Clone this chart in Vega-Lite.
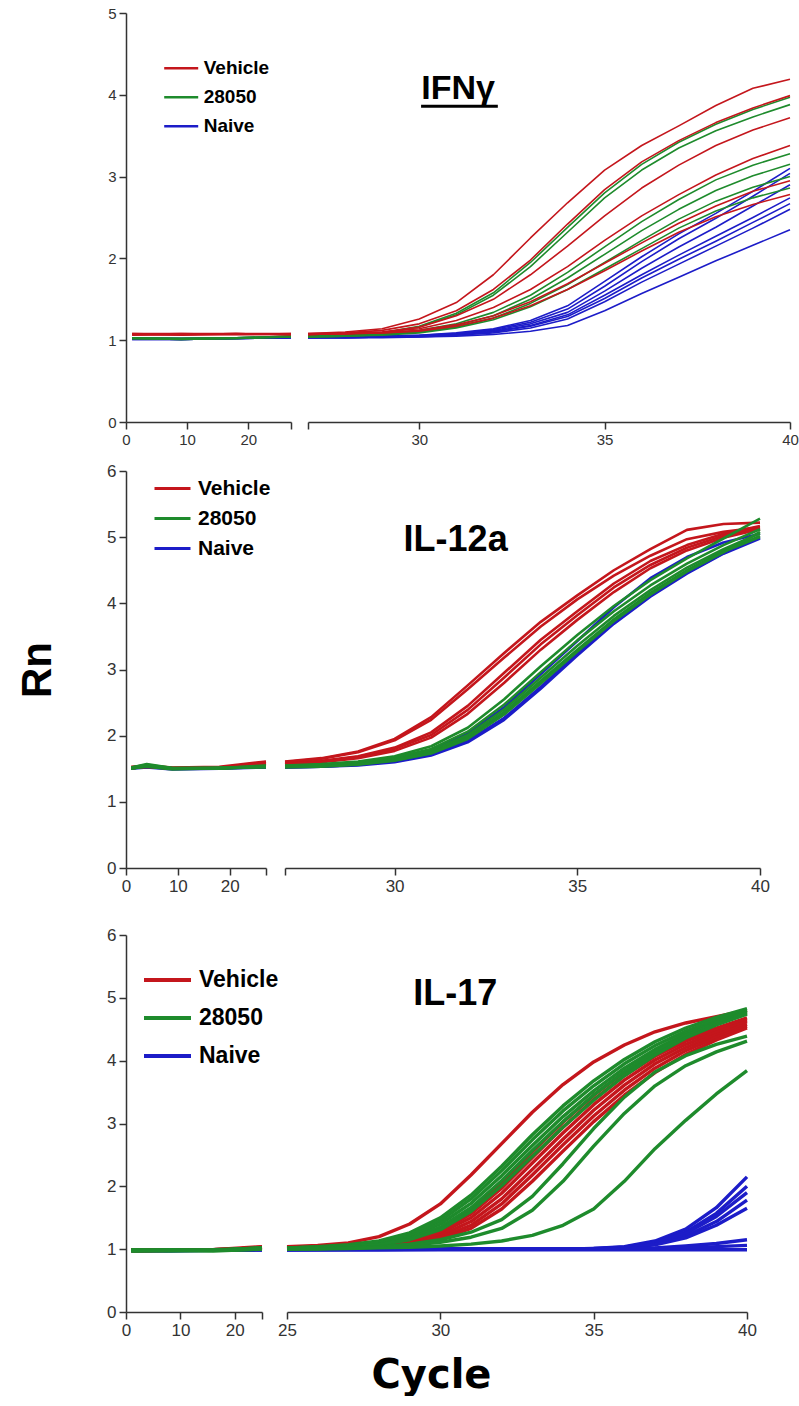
{
"$schema":"https://vega.github.io/schema/vega-lite/v6.json",
"autosize":{"type":"pad"},
"padding":{"left":16,"top":6,"right":0,"bottom":0},
"config":{"view":{"stroke":null},"axis":{"domainColor":"#333","domainWidth":1.5,"tickColor":"#333","tickWidth":1.5,"tickSize":7,"labelFont":"Liberation Sans","labelColor":"#333","labelPadding":3,"labelFlush":false,"labelOverlap":false,"grid":false},"line":{"strokeJoin":"round"}},
"datasets":{
"ifn":[
{"g":"Naive","s":1,"c":1,"v":1.03},{"g":"Naive","s":1,"c":9,"v":1.02},{"g":"Naive","s":1,"c":18,"v":1.03},{"g":"Naive","s":1,"c":27,"v":1.04},{"g":"Naive","s":1,"c":28,"v":1.04},{"g":"Naive","s":1,"c":29,"v":1.05},{"g":"Naive","s":1,"c":30,"v":1.06},{"g":"Naive","s":1,"c":31,"v":1.09},{"g":"Naive","s":1,"c":32,"v":1.14},{"g":"Naive","s":1,"c":33,"v":1.24},{"g":"Naive","s":1,"c":34,"v":1.42},{"g":"Naive","s":1,"c":35,"v":1.72},{"g":"Naive","s":1,"c":36,"v":2.02},{"g":"Naive","s":1,"c":37,"v":2.30},{"g":"Naive","s":1,"c":38,"v":2.55},{"g":"Naive","s":1,"c":39,"v":2.82},{"g":"Naive","s":1,"c":40,"v":3.10},
{"g":"Naive","s":2,"c":1,"v":1.02},{"g":"Naive","s":2,"c":9,"v":1.02},{"g":"Naive","s":2,"c":18,"v":1.03},{"g":"Naive","s":2,"c":27,"v":1.04},{"g":"Naive","s":2,"c":28,"v":1.04},{"g":"Naive","s":2,"c":29,"v":1.05},{"g":"Naive","s":2,"c":30,"v":1.06},{"g":"Naive","s":2,"c":31,"v":1.08},{"g":"Naive","s":2,"c":32,"v":1.13},{"g":"Naive","s":2,"c":33,"v":1.22},{"g":"Naive","s":2,"c":34,"v":1.38},{"g":"Naive","s":2,"c":35,"v":1.66},{"g":"Naive","s":2,"c":36,"v":1.96},{"g":"Naive","s":2,"c":37,"v":2.24},{"g":"Naive","s":2,"c":38,"v":2.49},{"g":"Naive","s":2,"c":39,"v":2.76},{"g":"Naive","s":2,"c":40,"v":3.04},
{"g":"Naive","s":3,"c":1,"v":1.02},{"g":"Naive","s":3,"c":9,"v":1.01},{"g":"Naive","s":3,"c":18,"v":1.02},{"g":"Naive","s":3,"c":27,"v":1.03},{"g":"Naive","s":3,"c":28,"v":1.04},{"g":"Naive","s":3,"c":29,"v":1.04},{"g":"Naive","s":3,"c":30,"v":1.05},{"g":"Naive","s":3,"c":31,"v":1.08},{"g":"Naive","s":3,"c":32,"v":1.12},{"g":"Naive","s":3,"c":33,"v":1.20},{"g":"Naive","s":3,"c":34,"v":1.34},{"g":"Naive","s":3,"c":35,"v":1.60},{"g":"Naive","s":3,"c":36,"v":1.88},{"g":"Naive","s":3,"c":37,"v":2.14},{"g":"Naive","s":3,"c":38,"v":2.38},{"g":"Naive","s":3,"c":39,"v":2.64},{"g":"Naive","s":3,"c":40,"v":2.90},
{"g":"Naive","s":4,"c":1,"v":1.02},{"g":"Naive","s":4,"c":9,"v":1.02},{"g":"Naive","s":4,"c":18,"v":1.02},{"g":"Naive","s":4,"c":27,"v":1.03},{"g":"Naive","s":4,"c":28,"v":1.03},{"g":"Naive","s":4,"c":29,"v":1.04},{"g":"Naive","s":4,"c":30,"v":1.05},{"g":"Naive","s":4,"c":31,"v":1.07},{"g":"Naive","s":4,"c":32,"v":1.11},{"g":"Naive","s":4,"c":33,"v":1.18},{"g":"Naive","s":4,"c":34,"v":1.31},{"g":"Naive","s":4,"c":35,"v":1.55},{"g":"Naive","s":4,"c":36,"v":1.80},{"g":"Naive","s":4,"c":37,"v":2.04},{"g":"Naive","s":4,"c":38,"v":2.27},{"g":"Naive","s":4,"c":39,"v":2.50},{"g":"Naive","s":4,"c":40,"v":2.74},
{"g":"Naive","s":5,"c":1,"v":1.01},{"g":"Naive","s":5,"c":9,"v":1.01},{"g":"Naive","s":5,"c":18,"v":1.02},{"g":"Naive","s":5,"c":27,"v":1.03},{"g":"Naive","s":5,"c":28,"v":1.03},{"g":"Naive","s":5,"c":29,"v":1.04},{"g":"Naive","s":5,"c":30,"v":1.05},{"g":"Naive","s":5,"c":31,"v":1.07},{"g":"Naive","s":5,"c":32,"v":1.10},{"g":"Naive","s":5,"c":33,"v":1.17},{"g":"Naive","s":5,"c":34,"v":1.29},{"g":"Naive","s":5,"c":35,"v":1.51},{"g":"Naive","s":5,"c":36,"v":1.76},{"g":"Naive","s":5,"c":37,"v":1.99},{"g":"Naive","s":5,"c":38,"v":2.21},{"g":"Naive","s":5,"c":39,"v":2.44},{"g":"Naive","s":5,"c":40,"v":2.67},
{"g":"Naive","s":6,"c":1,"v":1.02},{"g":"Naive","s":6,"c":9,"v":1.01},{"g":"Naive","s":6,"c":18,"v":1.02},{"g":"Naive","s":6,"c":27,"v":1.03},{"g":"Naive","s":6,"c":28,"v":1.03},{"g":"Naive","s":6,"c":29,"v":1.04},{"g":"Naive","s":6,"c":30,"v":1.04},{"g":"Naive","s":6,"c":31,"v":1.06},{"g":"Naive","s":6,"c":32,"v":1.09},{"g":"Naive","s":6,"c":33,"v":1.15},{"g":"Naive","s":6,"c":34,"v":1.26},{"g":"Naive","s":6,"c":35,"v":1.47},{"g":"Naive","s":6,"c":36,"v":1.71},{"g":"Naive","s":6,"c":37,"v":1.93},{"g":"Naive","s":6,"c":38,"v":2.15},{"g":"Naive","s":6,"c":39,"v":2.37},{"g":"Naive","s":6,"c":40,"v":2.60},
{"g":"Naive","s":7,"c":1,"v":1.01},{"g":"Naive","s":7,"c":9,"v":1.01},{"g":"Naive","s":7,"c":18,"v":1.02},{"g":"Naive","s":7,"c":27,"v":1.03},{"g":"Naive","s":7,"c":28,"v":1.03},{"g":"Naive","s":7,"c":29,"v":1.03},{"g":"Naive","s":7,"c":30,"v":1.04},{"g":"Naive","s":7,"c":31,"v":1.05},{"g":"Naive","s":7,"c":32,"v":1.07},{"g":"Naive","s":7,"c":33,"v":1.11},{"g":"Naive","s":7,"c":34,"v":1.18},{"g":"Naive","s":7,"c":35,"v":1.36},{"g":"Naive","s":7,"c":36,"v":1.57},{"g":"Naive","s":7,"c":37,"v":1.77},{"g":"Naive","s":7,"c":38,"v":1.97},{"g":"Naive","s":7,"c":39,"v":2.16},{"g":"Naive","s":7,"c":40,"v":2.35},
{"g":"28050","s":11,"c":1,"v":1.03},{"g":"28050","s":11,"c":9,"v":1.02},{"g":"28050","s":11,"c":18,"v":1.03},{"g":"28050","s":11,"c":27,"v":1.05},{"g":"28050","s":11,"c":28,"v":1.06},{"g":"28050","s":11,"c":29,"v":1.09},{"g":"28050","s":11,"c":30,"v":1.17},{"g":"28050","s":11,"c":31,"v":1.33},{"g":"28050","s":11,"c":32,"v":1.58},{"g":"28050","s":11,"c":33,"v":1.95},{"g":"28050","s":11,"c":34,"v":2.38},{"g":"28050","s":11,"c":35,"v":2.80},{"g":"28050","s":11,"c":36,"v":3.15},{"g":"28050","s":11,"c":37,"v":3.42},{"g":"28050","s":11,"c":38,"v":3.64},{"g":"28050","s":11,"c":39,"v":3.82},{"g":"28050","s":11,"c":40,"v":3.97},
{"g":"28050","s":12,"c":1,"v":1.02},{"g":"28050","s":12,"c":9,"v":1.02},{"g":"28050","s":12,"c":18,"v":1.02},{"g":"28050","s":12,"c":27,"v":1.05},{"g":"28050","s":12,"c":28,"v":1.06},{"g":"28050","s":12,"c":29,"v":1.09},{"g":"28050","s":12,"c":30,"v":1.16},{"g":"28050","s":12,"c":31,"v":1.31},{"g":"28050","s":12,"c":32,"v":1.55},{"g":"28050","s":12,"c":33,"v":1.90},{"g":"28050","s":12,"c":34,"v":2.32},{"g":"28050","s":12,"c":35,"v":2.74},{"g":"28050","s":12,"c":36,"v":3.08},{"g":"28050","s":12,"c":37,"v":3.35},{"g":"28050","s":12,"c":38,"v":3.56},{"g":"28050","s":12,"c":39,"v":3.73},{"g":"28050","s":12,"c":40,"v":3.88},
{"g":"28050","s":13,"c":1,"v":1.03},{"g":"28050","s":13,"c":9,"v":1.02},{"g":"28050","s":13,"c":18,"v":1.03},{"g":"28050","s":13,"c":27,"v":1.05},{"g":"28050","s":13,"c":28,"v":1.06},{"g":"28050","s":13,"c":29,"v":1.08},{"g":"28050","s":13,"c":30,"v":1.12},{"g":"28050","s":13,"c":31,"v":1.20},{"g":"28050","s":13,"c":32,"v":1.34},{"g":"28050","s":13,"c":33,"v":1.55},{"g":"28050","s":13,"c":34,"v":1.83},{"g":"28050","s":13,"c":35,"v":2.14},{"g":"28050","s":13,"c":36,"v":2.45},{"g":"28050","s":13,"c":37,"v":2.72},{"g":"28050","s":13,"c":38,"v":2.96},{"g":"28050","s":13,"c":39,"v":3.14},{"g":"28050","s":13,"c":40,"v":3.28},
{"g":"28050","s":14,"c":1,"v":1.02},{"g":"28050","s":14,"c":9,"v":1.01},{"g":"28050","s":14,"c":18,"v":1.02},{"g":"28050","s":14,"c":27,"v":1.04},{"g":"28050","s":14,"c":28,"v":1.05},{"g":"28050","s":14,"c":29,"v":1.07},{"g":"28050","s":14,"c":30,"v":1.10},{"g":"28050","s":14,"c":31,"v":1.18},{"g":"28050","s":14,"c":32,"v":1.30},{"g":"28050","s":14,"c":33,"v":1.50},{"g":"28050","s":14,"c":34,"v":1.76},{"g":"28050","s":14,"c":35,"v":2.05},{"g":"28050","s":14,"c":36,"v":2.34},{"g":"28050","s":14,"c":37,"v":2.60},{"g":"28050","s":14,"c":38,"v":2.83},{"g":"28050","s":14,"c":39,"v":3.01},{"g":"28050","s":14,"c":40,"v":3.15},
{"g":"28050","s":15,"c":1,"v":1.02},{"g":"28050","s":15,"c":9,"v":1.02},{"g":"28050","s":15,"c":18,"v":1.03},{"g":"28050","s":15,"c":27,"v":1.04},{"g":"28050","s":15,"c":28,"v":1.05},{"g":"28050","s":15,"c":29,"v":1.07},{"g":"28050","s":15,"c":30,"v":1.10},{"g":"28050","s":15,"c":31,"v":1.16},{"g":"28050","s":15,"c":32,"v":1.27},{"g":"28050","s":15,"c":33,"v":1.45},{"g":"28050","s":15,"c":34,"v":1.68},{"g":"28050","s":15,"c":35,"v":1.95},{"g":"28050","s":15,"c":36,"v":2.22},{"g":"28050","s":15,"c":37,"v":2.48},{"g":"28050","s":15,"c":38,"v":2.70},{"g":"28050","s":15,"c":39,"v":2.87},{"g":"28050","s":15,"c":40,"v":3.00},
{"g":"28050","s":16,"c":1,"v":1.02},{"g":"28050","s":16,"c":9,"v":1.01},{"g":"28050","s":16,"c":18,"v":1.02},{"g":"28050","s":16,"c":27,"v":1.04},{"g":"28050","s":16,"c":28,"v":1.05},{"g":"28050","s":16,"c":29,"v":1.06},{"g":"28050","s":16,"c":30,"v":1.09},{"g":"28050","s":16,"c":31,"v":1.15},{"g":"28050","s":16,"c":32,"v":1.25},{"g":"28050","s":16,"c":33,"v":1.41},{"g":"28050","s":16,"c":34,"v":1.62},{"g":"28050","s":16,"c":35,"v":1.87},{"g":"28050","s":16,"c":36,"v":2.12},{"g":"28050","s":16,"c":37,"v":2.37},{"g":"28050","s":16,"c":38,"v":2.58},{"g":"28050","s":16,"c":39,"v":2.74},{"g":"28050","s":16,"c":40,"v":2.86},
{"g":"Vehicle","s":21,"c":1,"v":1.08},{"g":"Vehicle","s":21,"c":9,"v":1.07},{"g":"Vehicle","s":21,"c":18,"v":1.08},{"g":"Vehicle","s":21,"c":27,"v":1.08},{"g":"Vehicle","s":21,"c":28,"v":1.10},{"g":"Vehicle","s":21,"c":29,"v":1.14},{"g":"Vehicle","s":21,"c":30,"v":1.26},{"g":"Vehicle","s":21,"c":31,"v":1.46},{"g":"Vehicle","s":21,"c":32,"v":1.80},{"g":"Vehicle","s":21,"c":33,"v":2.25},{"g":"Vehicle","s":21,"c":34,"v":2.68},{"g":"Vehicle","s":21,"c":35,"v":3.08},{"g":"Vehicle","s":21,"c":36,"v":3.38},{"g":"Vehicle","s":21,"c":37,"v":3.62},{"g":"Vehicle","s":21,"c":38,"v":3.87},{"g":"Vehicle","s":21,"c":39,"v":4.08},{"g":"Vehicle","s":21,"c":40,"v":4.19},
{"g":"Vehicle","s":22,"c":1,"v":1.08},{"g":"Vehicle","s":22,"c":9,"v":1.08},{"g":"Vehicle","s":22,"c":18,"v":1.07},{"g":"Vehicle","s":22,"c":27,"v":1.08},{"g":"Vehicle","s":22,"c":28,"v":1.09},{"g":"Vehicle","s":22,"c":29,"v":1.12},{"g":"Vehicle","s":22,"c":30,"v":1.20},{"g":"Vehicle","s":22,"c":31,"v":1.36},{"g":"Vehicle","s":22,"c":32,"v":1.62},{"g":"Vehicle","s":22,"c":33,"v":1.98},{"g":"Vehicle","s":22,"c":34,"v":2.42},{"g":"Vehicle","s":22,"c":35,"v":2.84},{"g":"Vehicle","s":22,"c":36,"v":3.18},{"g":"Vehicle","s":22,"c":37,"v":3.44},{"g":"Vehicle","s":22,"c":38,"v":3.66},{"g":"Vehicle","s":22,"c":39,"v":3.84},{"g":"Vehicle","s":22,"c":40,"v":3.99},
{"g":"Vehicle","s":23,"c":1,"v":1.07},{"g":"Vehicle","s":23,"c":9,"v":1.08},{"g":"Vehicle","s":23,"c":18,"v":1.08},{"g":"Vehicle","s":23,"c":27,"v":1.07},{"g":"Vehicle","s":23,"c":28,"v":1.08},{"g":"Vehicle","s":23,"c":29,"v":1.10},{"g":"Vehicle","s":23,"c":30,"v":1.16},{"g":"Vehicle","s":23,"c":31,"v":1.30},{"g":"Vehicle","s":23,"c":32,"v":1.50},{"g":"Vehicle","s":23,"c":33,"v":1.80},{"g":"Vehicle","s":23,"c":34,"v":2.15},{"g":"Vehicle","s":23,"c":35,"v":2.52},{"g":"Vehicle","s":23,"c":36,"v":2.86},{"g":"Vehicle","s":23,"c":37,"v":3.14},{"g":"Vehicle","s":23,"c":38,"v":3.38},{"g":"Vehicle","s":23,"c":39,"v":3.57},{"g":"Vehicle","s":23,"c":40,"v":3.72},
{"g":"Vehicle","s":24,"c":1,"v":1.07},{"g":"Vehicle","s":24,"c":9,"v":1.07},{"g":"Vehicle","s":24,"c":18,"v":1.08},{"g":"Vehicle","s":24,"c":27,"v":1.07},{"g":"Vehicle","s":24,"c":28,"v":1.08},{"g":"Vehicle","s":24,"c":29,"v":1.10},{"g":"Vehicle","s":24,"c":30,"v":1.14},{"g":"Vehicle","s":24,"c":31,"v":1.24},{"g":"Vehicle","s":24,"c":32,"v":1.40},{"g":"Vehicle","s":24,"c":33,"v":1.62},{"g":"Vehicle","s":24,"c":34,"v":1.90},{"g":"Vehicle","s":24,"c":35,"v":2.22},{"g":"Vehicle","s":24,"c":36,"v":2.52},{"g":"Vehicle","s":24,"c":37,"v":2.78},{"g":"Vehicle","s":24,"c":38,"v":3.02},{"g":"Vehicle","s":24,"c":39,"v":3.22},{"g":"Vehicle","s":24,"c":40,"v":3.38},
{"g":"Vehicle","s":25,"c":1,"v":1.07},{"g":"Vehicle","s":25,"c":9,"v":1.06},{"g":"Vehicle","s":25,"c":18,"v":1.07},{"g":"Vehicle","s":25,"c":27,"v":1.07},{"g":"Vehicle","s":25,"c":28,"v":1.08},{"g":"Vehicle","s":25,"c":29,"v":1.09},{"g":"Vehicle","s":25,"c":30,"v":1.12},{"g":"Vehicle","s":25,"c":31,"v":1.19},{"g":"Vehicle","s":25,"c":32,"v":1.30},{"g":"Vehicle","s":25,"c":33,"v":1.47},{"g":"Vehicle","s":25,"c":34,"v":1.69},{"g":"Vehicle","s":25,"c":35,"v":1.94},{"g":"Vehicle","s":25,"c":36,"v":2.19},{"g":"Vehicle","s":25,"c":37,"v":2.43},{"g":"Vehicle","s":25,"c":38,"v":2.64},{"g":"Vehicle","s":25,"c":39,"v":2.82},{"g":"Vehicle","s":25,"c":40,"v":2.95},
{"g":"Vehicle","s":26,"c":1,"v":1.06},{"g":"Vehicle","s":26,"c":9,"v":1.07},{"g":"Vehicle","s":26,"c":18,"v":1.07},{"g":"Vehicle","s":26,"c":27,"v":1.07},{"g":"Vehicle","s":26,"c":28,"v":1.08},{"g":"Vehicle","s":26,"c":29,"v":1.09},{"g":"Vehicle","s":26,"c":30,"v":1.11},{"g":"Vehicle","s":26,"c":31,"v":1.17},{"g":"Vehicle","s":26,"c":32,"v":1.27},{"g":"Vehicle","s":26,"c":33,"v":1.42},{"g":"Vehicle","s":26,"c":34,"v":1.62},{"g":"Vehicle","s":26,"c":35,"v":1.85},{"g":"Vehicle","s":26,"c":36,"v":2.09},{"g":"Vehicle","s":26,"c":37,"v":2.32},{"g":"Vehicle","s":26,"c":38,"v":2.51},{"g":"Vehicle","s":26,"c":39,"v":2.66},{"g":"Vehicle","s":26,"c":40,"v":2.78}
],
"il12":[
{"g":"Naive","s":1,"c":1,"v":1.51},{"g":"Naive","s":1,"c":4,"v":1.53},{"g":"Naive","s":1,"c":9,"v":1.50},{"g":"Naive","s":1,"c":18,"v":1.51},{"g":"Naive","s":1,"c":27,"v":1.52},{"g":"Naive","s":1,"c":28,"v":1.53},{"g":"Naive","s":1,"c":29,"v":1.56},{"g":"Naive","s":1,"c":30,"v":1.62},{"g":"Naive","s":1,"c":31,"v":1.72},{"g":"Naive","s":1,"c":32,"v":1.92},{"g":"Naive","s":1,"c":33,"v":2.27},{"g":"Naive","s":1,"c":34,"v":2.74},{"g":"Naive","s":1,"c":35,"v":3.24},{"g":"Naive","s":1,"c":36,"v":3.72},{"g":"Naive","s":1,"c":37,"v":4.12},{"g":"Naive","s":1,"c":38,"v":4.46},{"g":"Naive","s":1,"c":39,"v":4.76},{"g":"Naive","s":1,"c":40,"v":5.00},
{"g":"Naive","s":2,"c":1,"v":1.52},{"g":"Naive","s":2,"c":4,"v":1.54},{"g":"Naive","s":2,"c":9,"v":1.50},{"g":"Naive","s":2,"c":18,"v":1.51},{"g":"Naive","s":2,"c":27,"v":1.53},{"g":"Naive","s":2,"c":28,"v":1.55},{"g":"Naive","s":2,"c":29,"v":1.58},{"g":"Naive","s":2,"c":30,"v":1.65},{"g":"Naive","s":2,"c":31,"v":1.78},{"g":"Naive","s":2,"c":32,"v":2.03},{"g":"Naive","s":2,"c":33,"v":2.43},{"g":"Naive","s":2,"c":34,"v":2.93},{"g":"Naive","s":2,"c":35,"v":3.43},{"g":"Naive","s":2,"c":36,"v":3.94},{"g":"Naive","s":2,"c":37,"v":4.38},{"g":"Naive","s":2,"c":38,"v":4.70},{"g":"Naive","s":2,"c":39,"v":4.92},{"g":"Naive","s":2,"c":40,"v":5.05},
{"g":"Naive","s":3,"c":1,"v":1.50},{"g":"Naive","s":3,"c":4,"v":1.52},{"g":"Naive","s":3,"c":9,"v":1.49},{"g":"Naive","s":3,"c":18,"v":1.50},{"g":"Naive","s":3,"c":27,"v":1.52},{"g":"Naive","s":3,"c":28,"v":1.53},{"g":"Naive","s":3,"c":29,"v":1.55},{"g":"Naive","s":3,"c":30,"v":1.60},{"g":"Naive","s":3,"c":31,"v":1.70},{"g":"Naive","s":3,"c":32,"v":1.90},{"g":"Naive","s":3,"c":33,"v":2.24},{"g":"Naive","s":3,"c":34,"v":2.71},{"g":"Naive","s":3,"c":35,"v":3.21},{"g":"Naive","s":3,"c":36,"v":3.69},{"g":"Naive","s":3,"c":37,"v":4.10},{"g":"Naive","s":3,"c":38,"v":4.45},{"g":"Naive","s":3,"c":39,"v":4.75},{"g":"Naive","s":3,"c":40,"v":4.98},
{"g":"Vehicle","s":21,"c":1,"v":1.53},{"g":"Vehicle","s":21,"c":4,"v":1.55},{"g":"Vehicle","s":21,"c":9,"v":1.52},{"g":"Vehicle","s":21,"c":18,"v":1.53},{"g":"Vehicle","s":21,"c":27,"v":1.61},{"g":"Vehicle","s":21,"c":28,"v":1.66},{"g":"Vehicle","s":21,"c":29,"v":1.76},{"g":"Vehicle","s":21,"c":30,"v":1.95},{"g":"Vehicle","s":21,"c":31,"v":2.28},{"g":"Vehicle","s":21,"c":32,"v":2.76},{"g":"Vehicle","s":21,"c":33,"v":3.25},{"g":"Vehicle","s":21,"c":34,"v":3.72},{"g":"Vehicle","s":21,"c":35,"v":4.12},{"g":"Vehicle","s":21,"c":36,"v":4.50},{"g":"Vehicle","s":21,"c":37,"v":4.82},{"g":"Vehicle","s":21,"c":38,"v":5.11},{"g":"Vehicle","s":21,"c":39,"v":5.20},{"g":"Vehicle","s":21,"c":40,"v":5.22},
{"g":"Vehicle","s":22,"c":1,"v":1.52},{"g":"Vehicle","s":22,"c":4,"v":1.54},{"g":"Vehicle","s":22,"c":9,"v":1.51},{"g":"Vehicle","s":22,"c":18,"v":1.52},{"g":"Vehicle","s":22,"c":27,"v":1.60},{"g":"Vehicle","s":22,"c":28,"v":1.65},{"g":"Vehicle","s":22,"c":29,"v":1.75},{"g":"Vehicle","s":22,"c":30,"v":1.93},{"g":"Vehicle","s":22,"c":31,"v":2.24},{"g":"Vehicle","s":22,"c":32,"v":2.70},{"g":"Vehicle","s":22,"c":33,"v":3.18},{"g":"Vehicle","s":22,"c":34,"v":3.65},{"g":"Vehicle","s":22,"c":35,"v":4.06},{"g":"Vehicle","s":22,"c":36,"v":4.42},{"g":"Vehicle","s":22,"c":37,"v":4.72},{"g":"Vehicle","s":22,"c":38,"v":4.97},{"g":"Vehicle","s":22,"c":39,"v":5.08},{"g":"Vehicle","s":22,"c":40,"v":5.15},
{"g":"Vehicle","s":23,"c":1,"v":1.52},{"g":"Vehicle","s":23,"c":4,"v":1.54},{"g":"Vehicle","s":23,"c":9,"v":1.51},{"g":"Vehicle","s":23,"c":18,"v":1.52},{"g":"Vehicle","s":23,"c":27,"v":1.58},{"g":"Vehicle","s":23,"c":28,"v":1.62},{"g":"Vehicle","s":23,"c":29,"v":1.69},{"g":"Vehicle","s":23,"c":30,"v":1.82},{"g":"Vehicle","s":23,"c":31,"v":2.05},{"g":"Vehicle","s":23,"c":32,"v":2.45},{"g":"Vehicle","s":23,"c":33,"v":2.95},{"g":"Vehicle","s":23,"c":34,"v":3.45},{"g":"Vehicle","s":23,"c":35,"v":3.88},{"g":"Vehicle","s":23,"c":36,"v":4.30},{"g":"Vehicle","s":23,"c":37,"v":4.64},{"g":"Vehicle","s":23,"c":38,"v":4.88},{"g":"Vehicle","s":23,"c":39,"v":5.05},{"g":"Vehicle","s":23,"c":40,"v":5.17},
{"g":"Vehicle","s":24,"c":1,"v":1.51},{"g":"Vehicle","s":24,"c":4,"v":1.53},{"g":"Vehicle","s":24,"c":9,"v":1.50},{"g":"Vehicle","s":24,"c":18,"v":1.51},{"g":"Vehicle","s":24,"c":27,"v":1.57},{"g":"Vehicle","s":24,"c":28,"v":1.61},{"g":"Vehicle","s":24,"c":29,"v":1.68},{"g":"Vehicle","s":24,"c":30,"v":1.80},{"g":"Vehicle","s":24,"c":31,"v":2.01},{"g":"Vehicle","s":24,"c":32,"v":2.39},{"g":"Vehicle","s":24,"c":33,"v":2.88},{"g":"Vehicle","s":24,"c":34,"v":3.38},{"g":"Vehicle","s":24,"c":35,"v":3.82},{"g":"Vehicle","s":24,"c":36,"v":4.24},{"g":"Vehicle","s":24,"c":37,"v":4.58},{"g":"Vehicle","s":24,"c":38,"v":4.84},{"g":"Vehicle","s":24,"c":39,"v":5.02},{"g":"Vehicle","s":24,"c":40,"v":5.14},
{"g":"Vehicle","s":25,"c":1,"v":1.51},{"g":"Vehicle","s":25,"c":4,"v":1.53},{"g":"Vehicle","s":25,"c":9,"v":1.50},{"g":"Vehicle","s":25,"c":18,"v":1.52},{"g":"Vehicle","s":25,"c":27,"v":1.57},{"g":"Vehicle","s":25,"c":28,"v":1.60},{"g":"Vehicle","s":25,"c":29,"v":1.66},{"g":"Vehicle","s":25,"c":30,"v":1.77},{"g":"Vehicle","s":25,"c":31,"v":1.97},{"g":"Vehicle","s":25,"c":32,"v":2.33},{"g":"Vehicle","s":25,"c":33,"v":2.80},{"g":"Vehicle","s":25,"c":34,"v":3.30},{"g":"Vehicle","s":25,"c":35,"v":3.75},{"g":"Vehicle","s":25,"c":36,"v":4.17},{"g":"Vehicle","s":25,"c":37,"v":4.53},{"g":"Vehicle","s":25,"c":38,"v":4.80},{"g":"Vehicle","s":25,"c":39,"v":4.99},{"g":"Vehicle","s":25,"c":40,"v":5.12},
{"g":"28050","s":11,"c":1,"v":1.52},{"g":"28050","s":11,"c":4,"v":1.56},{"g":"28050","s":11,"c":9,"v":1.51},{"g":"28050","s":11,"c":18,"v":1.51},{"g":"28050","s":11,"c":27,"v":1.55},{"g":"28050","s":11,"c":28,"v":1.57},{"g":"28050","s":11,"c":29,"v":1.61},{"g":"28050","s":11,"c":30,"v":1.69},{"g":"28050","s":11,"c":31,"v":1.84},{"g":"28050","s":11,"c":32,"v":2.12},{"g":"28050","s":11,"c":33,"v":2.55},{"g":"28050","s":11,"c":34,"v":3.05},{"g":"28050","s":11,"c":35,"v":3.52},{"g":"28050","s":11,"c":36,"v":3.96},{"g":"28050","s":11,"c":37,"v":4.35},{"g":"28050","s":11,"c":38,"v":4.68},{"g":"28050","s":11,"c":39,"v":4.98},{"g":"28050","s":11,"c":40,"v":5.28},
{"g":"28050","s":12,"c":1,"v":1.51},{"g":"28050","s":12,"c":4,"v":1.55},{"g":"28050","s":12,"c":9,"v":1.50},{"g":"28050","s":12,"c":18,"v":1.51},{"g":"28050","s":12,"c":27,"v":1.54},{"g":"28050","s":12,"c":28,"v":1.56},{"g":"28050","s":12,"c":29,"v":1.60},{"g":"28050","s":12,"c":30,"v":1.67},{"g":"28050","s":12,"c":31,"v":1.80},{"g":"28050","s":12,"c":32,"v":2.06},{"g":"28050","s":12,"c":33,"v":2.47},{"g":"28050","s":12,"c":34,"v":2.96},{"g":"28050","s":12,"c":35,"v":3.44},{"g":"28050","s":12,"c":36,"v":3.88},{"g":"28050","s":12,"c":37,"v":4.27},{"g":"28050","s":12,"c":38,"v":4.60},{"g":"28050","s":12,"c":39,"v":4.88},{"g":"28050","s":12,"c":40,"v":5.12},
{"g":"28050","s":13,"c":1,"v":1.50},{"g":"28050","s":13,"c":4,"v":1.54},{"g":"28050","s":13,"c":9,"v":1.50},{"g":"28050","s":13,"c":18,"v":1.50},{"g":"28050","s":13,"c":27,"v":1.54},{"g":"28050","s":13,"c":28,"v":1.55},{"g":"28050","s":13,"c":29,"v":1.59},{"g":"28050","s":13,"c":30,"v":1.65},{"g":"28050","s":13,"c":31,"v":1.77},{"g":"28050","s":13,"c":32,"v":2.01},{"g":"28050","s":13,"c":33,"v":2.40},{"g":"28050","s":13,"c":34,"v":2.88},{"g":"28050","s":13,"c":35,"v":3.36},{"g":"28050","s":13,"c":36,"v":3.81},{"g":"28050","s":13,"c":37,"v":4.20},{"g":"28050","s":13,"c":38,"v":4.54},{"g":"28050","s":13,"c":39,"v":4.82},{"g":"28050","s":13,"c":40,"v":5.06},
{"g":"28050","s":14,"c":1,"v":1.51},{"g":"28050","s":14,"c":4,"v":1.53},{"g":"28050","s":14,"c":9,"v":1.49},{"g":"28050","s":14,"c":18,"v":1.51},{"g":"28050","s":14,"c":27,"v":1.53},{"g":"28050","s":14,"c":28,"v":1.55},{"g":"28050","s":14,"c":29,"v":1.58},{"g":"28050","s":14,"c":30,"v":1.64},{"g":"28050","s":14,"c":31,"v":1.75},{"g":"28050","s":14,"c":32,"v":1.98},{"g":"28050","s":14,"c":33,"v":2.36},{"g":"28050","s":14,"c":34,"v":2.83},{"g":"28050","s":14,"c":35,"v":3.30},{"g":"28050","s":14,"c":36,"v":3.76},{"g":"28050","s":14,"c":37,"v":4.16},{"g":"28050","s":14,"c":38,"v":4.50},{"g":"28050","s":14,"c":39,"v":4.79},{"g":"28050","s":14,"c":40,"v":5.02},
{"g":"28050","s":15,"c":1,"v":1.50},{"g":"28050","s":15,"c":4,"v":1.55},{"g":"28050","s":15,"c":9,"v":1.50},{"g":"28050","s":15,"c":18,"v":1.50},{"g":"28050","s":15,"c":27,"v":1.53},{"g":"28050","s":15,"c":28,"v":1.54},{"g":"28050","s":15,"c":29,"v":1.57},{"g":"28050","s":15,"c":30,"v":1.63},{"g":"28050","s":15,"c":31,"v":1.74},{"g":"28050","s":15,"c":32,"v":1.96},{"g":"28050","s":15,"c":33,"v":2.33},{"g":"28050","s":15,"c":34,"v":2.80},{"g":"28050","s":15,"c":35,"v":3.28},{"g":"28050","s":15,"c":36,"v":3.74},{"g":"28050","s":15,"c":37,"v":4.14},{"g":"28050","s":15,"c":38,"v":4.49},{"g":"28050","s":15,"c":39,"v":4.78},{"g":"28050","s":15,"c":40,"v":5.00},
{"g":"28050","s":16,"c":1,"v":1.52},{"g":"28050","s":16,"c":4,"v":1.57},{"g":"28050","s":16,"c":9,"v":1.51},{"g":"28050","s":16,"c":18,"v":1.52},{"g":"28050","s":16,"c":27,"v":1.52},{"g":"28050","s":16,"c":28,"v":1.53},{"g":"28050","s":16,"c":29,"v":1.56},{"g":"28050","s":16,"c":30,"v":1.62},{"g":"28050","s":16,"c":31,"v":1.73},{"g":"28050","s":16,"c":32,"v":1.95},{"g":"28050","s":16,"c":33,"v":2.32},{"g":"28050","s":16,"c":34,"v":2.79},{"g":"28050","s":16,"c":35,"v":3.27},{"g":"28050","s":16,"c":36,"v":3.73},{"g":"28050","s":16,"c":37,"v":4.13},{"g":"28050","s":16,"c":38,"v":4.48},{"g":"28050","s":16,"c":39,"v":4.77},{"g":"28050","s":16,"c":40,"v":5.08}
],
"il17":[
{"g":"Naive","s":1,"c":1,"v":0.98},{"g":"Naive","s":1,"c":8,"v":0.99},{"g":"Naive","s":1,"c":16,"v":0.98},{"g":"Naive","s":1,"c":25,"v":1.00},{"g":"Naive","s":1,"c":28,"v":1.00},{"g":"Naive","s":1,"c":31,"v":1.00},{"g":"Naive","s":1,"c":34,"v":1.00},{"g":"Naive","s":1,"c":35,"v":1.01},{"g":"Naive","s":1,"c":36,"v":1.04},{"g":"Naive","s":1,"c":37,"v":1.13},{"g":"Naive","s":1,"c":38,"v":1.32},{"g":"Naive","s":1,"c":39,"v":1.66},{"g":"Naive","s":1,"c":40,"v":2.15},
{"g":"Naive","s":2,"c":1,"v":0.98},{"g":"Naive","s":2,"c":8,"v":0.98},{"g":"Naive","s":2,"c":16,"v":0.99},{"g":"Naive","s":2,"c":25,"v":1.00},{"g":"Naive","s":2,"c":28,"v":1.00},{"g":"Naive","s":2,"c":31,"v":1.00},{"g":"Naive","s":2,"c":34,"v":1.00},{"g":"Naive","s":2,"c":35,"v":1.01},{"g":"Naive","s":2,"c":36,"v":1.03},{"g":"Naive","s":2,"c":37,"v":1.11},{"g":"Naive","s":2,"c":38,"v":1.27},{"g":"Naive","s":2,"c":39,"v":1.57},{"g":"Naive","s":2,"c":40,"v":2.00},
{"g":"Naive","s":3,"c":1,"v":0.99},{"g":"Naive","s":3,"c":8,"v":0.98},{"g":"Naive","s":3,"c":16,"v":0.98},{"g":"Naive","s":3,"c":25,"v":1.00},{"g":"Naive","s":3,"c":28,"v":1.00},{"g":"Naive","s":3,"c":31,"v":1.00},{"g":"Naive","s":3,"c":34,"v":1.00},{"g":"Naive","s":3,"c":35,"v":1.00},{"g":"Naive","s":3,"c":36,"v":1.03},{"g":"Naive","s":3,"c":37,"v":1.10},{"g":"Naive","s":3,"c":38,"v":1.25},{"g":"Naive","s":3,"c":39,"v":1.52},{"g":"Naive","s":3,"c":40,"v":1.90},
{"g":"Naive","s":4,"c":1,"v":0.98},{"g":"Naive","s":4,"c":8,"v":0.98},{"g":"Naive","s":4,"c":16,"v":0.98},{"g":"Naive","s":4,"c":25,"v":0.99},{"g":"Naive","s":4,"c":28,"v":1.00},{"g":"Naive","s":4,"c":31,"v":1.00},{"g":"Naive","s":4,"c":34,"v":1.00},{"g":"Naive","s":4,"c":35,"v":1.00},{"g":"Naive","s":4,"c":36,"v":1.02},{"g":"Naive","s":4,"c":37,"v":1.08},{"g":"Naive","s":4,"c":38,"v":1.21},{"g":"Naive","s":4,"c":39,"v":1.44},{"g":"Naive","s":4,"c":40,"v":1.78},
{"g":"Naive","s":5,"c":1,"v":0.97},{"g":"Naive","s":5,"c":8,"v":0.98},{"g":"Naive","s":5,"c":16,"v":0.98},{"g":"Naive","s":5,"c":25,"v":0.99},{"g":"Naive","s":5,"c":28,"v":0.99},{"g":"Naive","s":5,"c":31,"v":1.00},{"g":"Naive","s":5,"c":34,"v":1.00},{"g":"Naive","s":5,"c":35,"v":1.00},{"g":"Naive","s":5,"c":36,"v":1.02},{"g":"Naive","s":5,"c":37,"v":1.07},{"g":"Naive","s":5,"c":38,"v":1.18},{"g":"Naive","s":5,"c":39,"v":1.38},{"g":"Naive","s":5,"c":40,"v":1.65},
{"g":"Naive","s":6,"c":1,"v":0.98},{"g":"Naive","s":6,"c":8,"v":0.98},{"g":"Naive","s":6,"c":16,"v":0.99},{"g":"Naive","s":6,"c":25,"v":1.00},{"g":"Naive","s":6,"c":31,"v":1.00},{"g":"Naive","s":6,"c":35,"v":1.00},{"g":"Naive","s":6,"c":36,"v":1.01},{"g":"Naive","s":6,"c":37,"v":1.02},{"g":"Naive","s":6,"c":38,"v":1.05},{"g":"Naive","s":6,"c":39,"v":1.09},{"g":"Naive","s":6,"c":40,"v":1.15},
{"g":"Naive","s":7,"c":1,"v":0.98},{"g":"Naive","s":7,"c":8,"v":0.97},{"g":"Naive","s":7,"c":16,"v":0.98},{"g":"Naive","s":7,"c":25,"v":0.99},{"g":"Naive","s":7,"c":31,"v":1.00},{"g":"Naive","s":7,"c":35,"v":1.00},{"g":"Naive","s":7,"c":37,"v":1.01},{"g":"Naive","s":7,"c":38,"v":1.02},{"g":"Naive","s":7,"c":39,"v":1.04},{"g":"Naive","s":7,"c":40,"v":1.06},
{"g":"Naive","s":8,"c":1,"v":0.97},{"g":"Naive","s":8,"c":8,"v":0.98},{"g":"Naive","s":8,"c":16,"v":0.98},{"g":"Naive","s":8,"c":25,"v":0.99},{"g":"Naive","s":8,"c":31,"v":0.99},{"g":"Naive","s":8,"c":35,"v":0.99},{"g":"Naive","s":8,"c":40,"v":0.99},
{"g":"Vehicle","s":21,"c":1,"v":0.99},{"g":"Vehicle","s":21,"c":8,"v":0.98},{"g":"Vehicle","s":21,"c":16,"v":0.99},{"g":"Vehicle","s":21,"c":25,"v":1.04},{"g":"Vehicle","s":21,"c":26,"v":1.06},{"g":"Vehicle","s":21,"c":27,"v":1.10},{"g":"Vehicle","s":21,"c":28,"v":1.20},{"g":"Vehicle","s":21,"c":29,"v":1.40},{"g":"Vehicle","s":21,"c":30,"v":1.72},{"g":"Vehicle","s":21,"c":31,"v":2.18},{"g":"Vehicle","s":21,"c":32,"v":2.68},{"g":"Vehicle","s":21,"c":33,"v":3.18},{"g":"Vehicle","s":21,"c":34,"v":3.62},{"g":"Vehicle","s":21,"c":35,"v":3.98},{"g":"Vehicle","s":21,"c":36,"v":4.25},{"g":"Vehicle","s":21,"c":37,"v":4.46},{"g":"Vehicle","s":21,"c":38,"v":4.60},{"g":"Vehicle","s":21,"c":39,"v":4.70},{"g":"Vehicle","s":21,"c":40,"v":4.80},
{"g":"Vehicle","s":22,"c":1,"v":0.98},{"g":"Vehicle","s":22,"c":8,"v":0.99},{"g":"Vehicle","s":22,"c":16,"v":0.98},{"g":"Vehicle","s":22,"c":25,"v":1.03},{"g":"Vehicle","s":22,"c":26,"v":1.04},{"g":"Vehicle","s":22,"c":27,"v":1.06},{"g":"Vehicle","s":22,"c":28,"v":1.10},{"g":"Vehicle","s":22,"c":29,"v":1.18},{"g":"Vehicle","s":22,"c":30,"v":1.32},{"g":"Vehicle","s":22,"c":31,"v":1.62},{"g":"Vehicle","s":22,"c":32,"v":2.05},{"g":"Vehicle","s":22,"c":33,"v":2.55},{"g":"Vehicle","s":22,"c":34,"v":3.02},{"g":"Vehicle","s":22,"c":35,"v":3.45},{"g":"Vehicle","s":22,"c":36,"v":3.82},{"g":"Vehicle","s":22,"c":37,"v":4.12},{"g":"Vehicle","s":22,"c":38,"v":4.35},{"g":"Vehicle","s":22,"c":39,"v":4.52},{"g":"Vehicle","s":22,"c":40,"v":4.68},
{"g":"Vehicle","s":23,"c":1,"v":0.99},{"g":"Vehicle","s":23,"c":8,"v":0.98},{"g":"Vehicle","s":23,"c":16,"v":0.98},{"g":"Vehicle","s":23,"c":25,"v":1.03},{"g":"Vehicle","s":23,"c":26,"v":1.04},{"g":"Vehicle","s":23,"c":27,"v":1.05},{"g":"Vehicle","s":23,"c":28,"v":1.09},{"g":"Vehicle","s":23,"c":29,"v":1.16},{"g":"Vehicle","s":23,"c":30,"v":1.29},{"g":"Vehicle","s":23,"c":31,"v":1.56},{"g":"Vehicle","s":23,"c":32,"v":1.97},{"g":"Vehicle","s":23,"c":33,"v":2.46},{"g":"Vehicle","s":23,"c":34,"v":2.94},{"g":"Vehicle","s":23,"c":35,"v":3.38},{"g":"Vehicle","s":23,"c":36,"v":3.76},{"g":"Vehicle","s":23,"c":37,"v":4.07},{"g":"Vehicle","s":23,"c":38,"v":4.31},{"g":"Vehicle","s":23,"c":39,"v":4.49},{"g":"Vehicle","s":23,"c":40,"v":4.65},
{"g":"Vehicle","s":24,"c":1,"v":0.98},{"g":"Vehicle","s":24,"c":8,"v":0.98},{"g":"Vehicle","s":24,"c":16,"v":0.99},{"g":"Vehicle","s":24,"c":25,"v":1.02},{"g":"Vehicle","s":24,"c":26,"v":1.03},{"g":"Vehicle","s":24,"c":27,"v":1.05},{"g":"Vehicle","s":24,"c":28,"v":1.08},{"g":"Vehicle","s":24,"c":29,"v":1.14},{"g":"Vehicle","s":24,"c":30,"v":1.26},{"g":"Vehicle","s":24,"c":31,"v":1.50},{"g":"Vehicle","s":24,"c":32,"v":1.89},{"g":"Vehicle","s":24,"c":33,"v":2.37},{"g":"Vehicle","s":24,"c":34,"v":2.85},{"g":"Vehicle","s":24,"c":35,"v":3.30},{"g":"Vehicle","s":24,"c":36,"v":3.69},{"g":"Vehicle","s":24,"c":37,"v":4.01},{"g":"Vehicle","s":24,"c":38,"v":4.26},{"g":"Vehicle","s":24,"c":39,"v":4.45},{"g":"Vehicle","s":24,"c":40,"v":4.62},
{"g":"Vehicle","s":25,"c":1,"v":0.98},{"g":"Vehicle","s":25,"c":8,"v":0.99},{"g":"Vehicle","s":25,"c":16,"v":0.98},{"g":"Vehicle","s":25,"c":25,"v":1.02},{"g":"Vehicle","s":25,"c":26,"v":1.03},{"g":"Vehicle","s":25,"c":27,"v":1.04},{"g":"Vehicle","s":25,"c":28,"v":1.07},{"g":"Vehicle","s":25,"c":29,"v":1.12},{"g":"Vehicle","s":25,"c":30,"v":1.22},{"g":"Vehicle","s":25,"c":31,"v":1.44},{"g":"Vehicle","s":25,"c":32,"v":1.80},{"g":"Vehicle","s":25,"c":33,"v":2.27},{"g":"Vehicle","s":25,"c":34,"v":2.75},{"g":"Vehicle","s":25,"c":35,"v":3.21},{"g":"Vehicle","s":25,"c":36,"v":3.61},{"g":"Vehicle","s":25,"c":37,"v":3.95},{"g":"Vehicle","s":25,"c":38,"v":4.21},{"g":"Vehicle","s":25,"c":39,"v":4.41},{"g":"Vehicle","s":25,"c":40,"v":4.58},
{"g":"Vehicle","s":26,"c":1,"v":0.97},{"g":"Vehicle","s":26,"c":8,"v":0.98},{"g":"Vehicle","s":26,"c":16,"v":0.98},{"g":"Vehicle","s":26,"c":25,"v":1.02},{"g":"Vehicle","s":26,"c":26,"v":1.03},{"g":"Vehicle","s":26,"c":27,"v":1.04},{"g":"Vehicle","s":26,"c":28,"v":1.06},{"g":"Vehicle","s":26,"c":29,"v":1.10},{"g":"Vehicle","s":26,"c":30,"v":1.19},{"g":"Vehicle","s":26,"c":31,"v":1.38},{"g":"Vehicle","s":26,"c":32,"v":1.72},{"g":"Vehicle","s":26,"c":33,"v":2.18},{"g":"Vehicle","s":26,"c":34,"v":2.66},{"g":"Vehicle","s":26,"c":35,"v":3.12},{"g":"Vehicle","s":26,"c":36,"v":3.53},{"g":"Vehicle","s":26,"c":37,"v":3.88},{"g":"Vehicle","s":26,"c":38,"v":4.16},{"g":"Vehicle","s":26,"c":39,"v":4.37},{"g":"Vehicle","s":26,"c":40,"v":4.55},
{"g":"Vehicle","s":27,"c":1,"v":0.98},{"g":"Vehicle","s":27,"c":8,"v":0.98},{"g":"Vehicle","s":27,"c":16,"v":0.99},{"g":"Vehicle","s":27,"c":25,"v":1.02},{"g":"Vehicle","s":27,"c":26,"v":1.02},{"g":"Vehicle","s":27,"c":27,"v":1.03},{"g":"Vehicle","s":27,"c":28,"v":1.05},{"g":"Vehicle","s":27,"c":29,"v":1.09},{"g":"Vehicle","s":27,"c":30,"v":1.16},{"g":"Vehicle","s":27,"c":31,"v":1.33},{"g":"Vehicle","s":27,"c":32,"v":1.64},{"g":"Vehicle","s":27,"c":33,"v":2.08},{"g":"Vehicle","s":27,"c":34,"v":2.56},{"g":"Vehicle","s":27,"c":35,"v":3.03},{"g":"Vehicle","s":27,"c":36,"v":3.45},{"g":"Vehicle","s":27,"c":37,"v":3.81},{"g":"Vehicle","s":27,"c":38,"v":4.10},{"g":"Vehicle","s":27,"c":39,"v":4.33},{"g":"Vehicle","s":27,"c":40,"v":4.52},
{"g":"28050","s":11,"c":1,"v":0.99},{"g":"28050","s":11,"c":8,"v":0.98},{"g":"28050","s":11,"c":16,"v":0.98},{"g":"28050","s":11,"c":25,"v":1.02},{"g":"28050","s":11,"c":26,"v":1.04},{"g":"28050","s":11,"c":27,"v":1.07},{"g":"28050","s":11,"c":28,"v":1.13},{"g":"28050","s":11,"c":29,"v":1.26},{"g":"28050","s":11,"c":30,"v":1.50},{"g":"28050","s":11,"c":31,"v":1.86},{"g":"28050","s":11,"c":32,"v":2.32},{"g":"28050","s":11,"c":33,"v":2.82},{"g":"28050","s":11,"c":34,"v":3.28},{"g":"28050","s":11,"c":35,"v":3.68},{"g":"28050","s":11,"c":36,"v":4.02},{"g":"28050","s":11,"c":37,"v":4.30},{"g":"28050","s":11,"c":38,"v":4.52},{"g":"28050","s":11,"c":39,"v":4.69},{"g":"28050","s":11,"c":40,"v":4.83},
{"g":"28050","s":12,"c":1,"v":0.98},{"g":"28050","s":12,"c":8,"v":0.99},{"g":"28050","s":12,"c":16,"v":0.98},{"g":"28050","s":12,"c":25,"v":1.02},{"g":"28050","s":12,"c":26,"v":1.03},{"g":"28050","s":12,"c":27,"v":1.06},{"g":"28050","s":12,"c":28,"v":1.11},{"g":"28050","s":12,"c":29,"v":1.23},{"g":"28050","s":12,"c":30,"v":1.45},{"g":"28050","s":12,"c":31,"v":1.80},{"g":"28050","s":12,"c":32,"v":2.25},{"g":"28050","s":12,"c":33,"v":2.74},{"g":"28050","s":12,"c":34,"v":3.20},{"g":"28050","s":12,"c":35,"v":3.60},{"g":"28050","s":12,"c":36,"v":3.95},{"g":"28050","s":12,"c":37,"v":4.24},{"g":"28050","s":12,"c":38,"v":4.47},{"g":"28050","s":12,"c":39,"v":4.65},{"g":"28050","s":12,"c":40,"v":4.80},
{"g":"28050","s":13,"c":1,"v":0.98},{"g":"28050","s":13,"c":8,"v":0.98},{"g":"28050","s":13,"c":16,"v":0.99},{"g":"28050","s":13,"c":25,"v":1.02},{"g":"28050","s":13,"c":26,"v":1.03},{"g":"28050","s":13,"c":27,"v":1.05},{"g":"28050","s":13,"c":28,"v":1.10},{"g":"28050","s":13,"c":29,"v":1.20},{"g":"28050","s":13,"c":30,"v":1.40},{"g":"28050","s":13,"c":31,"v":1.73},{"g":"28050","s":13,"c":32,"v":2.17},{"g":"28050","s":13,"c":33,"v":2.65},{"g":"28050","s":13,"c":34,"v":3.11},{"g":"28050","s":13,"c":35,"v":3.52},{"g":"28050","s":13,"c":36,"v":3.88},{"g":"28050","s":13,"c":37,"v":4.18},{"g":"28050","s":13,"c":38,"v":4.43},{"g":"28050","s":13,"c":39,"v":4.62},{"g":"28050","s":13,"c":40,"v":4.78},
{"g":"28050","s":14,"c":1,"v":0.97},{"g":"28050","s":14,"c":8,"v":0.98},{"g":"28050","s":14,"c":16,"v":0.98},{"g":"28050","s":14,"c":25,"v":1.01},{"g":"28050","s":14,"c":26,"v":1.02},{"g":"28050","s":14,"c":27,"v":1.04},{"g":"28050","s":14,"c":28,"v":1.08},{"g":"28050","s":14,"c":29,"v":1.17},{"g":"28050","s":14,"c":30,"v":1.35},{"g":"28050","s":14,"c":31,"v":1.66},{"g":"28050","s":14,"c":32,"v":2.09},{"g":"28050","s":14,"c":33,"v":2.57},{"g":"28050","s":14,"c":34,"v":3.03},{"g":"28050","s":14,"c":35,"v":3.45},{"g":"28050","s":14,"c":36,"v":3.82},{"g":"28050","s":14,"c":37,"v":4.14},{"g":"28050","s":14,"c":38,"v":4.40},{"g":"28050","s":14,"c":39,"v":4.60},{"g":"28050","s":14,"c":40,"v":4.76},
{"g":"28050","s":15,"c":1,"v":0.98},{"g":"28050","s":15,"c":8,"v":0.97},{"g":"28050","s":15,"c":16,"v":0.98},{"g":"28050","s":15,"c":25,"v":1.01},{"g":"28050","s":15,"c":26,"v":1.02},{"g":"28050","s":15,"c":27,"v":1.04},{"g":"28050","s":15,"c":28,"v":1.07},{"g":"28050","s":15,"c":29,"v":1.15},{"g":"28050","s":15,"c":30,"v":1.31},{"g":"28050","s":15,"c":31,"v":1.60},{"g":"28050","s":15,"c":32,"v":2.01},{"g":"28050","s":15,"c":33,"v":2.48},{"g":"28050","s":15,"c":34,"v":2.94},{"g":"28050","s":15,"c":35,"v":3.37},{"g":"28050","s":15,"c":36,"v":3.76},{"g":"28050","s":15,"c":37,"v":4.09},{"g":"28050","s":15,"c":38,"v":4.36},{"g":"28050","s":15,"c":39,"v":4.57},{"g":"28050","s":15,"c":40,"v":4.74},
{"g":"28050","s":16,"c":1,"v":0.98},{"g":"28050","s":16,"c":8,"v":0.98},{"g":"28050","s":16,"c":16,"v":0.98},{"g":"28050","s":16,"c":25,"v":1.00},{"g":"28050","s":16,"c":26,"v":1.01},{"g":"28050","s":16,"c":27,"v":1.02},{"g":"28050","s":16,"c":28,"v":1.04},{"g":"28050","s":16,"c":29,"v":1.08},{"g":"28050","s":16,"c":30,"v":1.15},{"g":"28050","s":16,"c":31,"v":1.27},{"g":"28050","s":16,"c":32,"v":1.47},{"g":"28050","s":16,"c":33,"v":1.84},{"g":"28050","s":16,"c":34,"v":2.36},{"g":"28050","s":16,"c":35,"v":2.92},{"g":"28050","s":16,"c":36,"v":3.42},{"g":"28050","s":16,"c":37,"v":3.82},{"g":"28050","s":16,"c":38,"v":4.08},{"g":"28050","s":16,"c":39,"v":4.26},{"g":"28050","s":16,"c":40,"v":4.39},
{"g":"28050","s":17,"c":1,"v":0.97},{"g":"28050","s":17,"c":8,"v":0.98},{"g":"28050","s":17,"c":16,"v":0.98},{"g":"28050","s":17,"c":25,"v":1.00},{"g":"28050","s":17,"c":26,"v":1.01},{"g":"28050","s":17,"c":27,"v":1.02},{"g":"28050","s":17,"c":28,"v":1.03},{"g":"28050","s":17,"c":29,"v":1.06},{"g":"28050","s":17,"c":30,"v":1.11},{"g":"28050","s":17,"c":31,"v":1.19},{"g":"28050","s":17,"c":32,"v":1.33},{"g":"28050","s":17,"c":33,"v":1.62},{"g":"28050","s":17,"c":34,"v":2.08},{"g":"28050","s":17,"c":35,"v":2.64},{"g":"28050","s":17,"c":36,"v":3.16},{"g":"28050","s":17,"c":37,"v":3.60},{"g":"28050","s":17,"c":38,"v":3.92},{"g":"28050","s":17,"c":39,"v":4.14},{"g":"28050","s":17,"c":40,"v":4.31},
{"g":"28050","s":18,"c":1,"v":0.98},{"g":"28050","s":18,"c":8,"v":0.98},{"g":"28050","s":18,"c":16,"v":0.97},{"g":"28050","s":18,"c":25,"v":1.00},{"g":"28050","s":18,"c":26,"v":1.00},{"g":"28050","s":18,"c":27,"v":1.01},{"g":"28050","s":18,"c":28,"v":1.02},{"g":"28050","s":18,"c":29,"v":1.03},{"g":"28050","s":18,"c":30,"v":1.05},{"g":"28050","s":18,"c":31,"v":1.08},{"g":"28050","s":18,"c":32,"v":1.13},{"g":"28050","s":18,"c":33,"v":1.22},{"g":"28050","s":18,"c":34,"v":1.38},{"g":"28050","s":18,"c":35,"v":1.64},{"g":"28050","s":18,"c":36,"v":2.08},{"g":"28050","s":18,"c":37,"v":2.60},{"g":"28050","s":18,"c":38,"v":3.05},{"g":"28050","s":18,"c":39,"v":3.47},{"g":"28050","s":18,"c":40,"v":3.84}
]
},
"resolve":{"scale":{"color":"independent"},"legend":{"color":"independent"}},
"spacing":15,
"vconcat":[
{"hconcat":[
 {"width":165,"height":409,"data":{"name":"ifn"},"transform":[{"filter":"datum.c <= 27"}],
  "mark":{"type":"line","strokeWidth":1.6},
  "encoding":{
   "x":{"field":"c","type":"quantitative","scale":{"domain":[0,27],"nice":false,"zero":false},"axis":{"title":null,"values":[0,10,20,27],"labelExpr":"datum.value == 27 ? '' : datum.label","labelFontSize":15}},
   "y":{"field":"v","type":"quantitative","scale":{"domain":[0,5],"nice":false,"zero":false},"axis":{"title":null,"values":[0,1,2,3,4,5],"labelFontSize":15}},
   "color":{"field":"g","type":"nominal","scale":{"domain":["Vehicle","28050","Naive"],"range":["#c4161c","#1e8b2c","#1c1cc8"]},
     "legend":{"title":null,"orient":"none","legendX":36.7,"legendY":36.7,"symbolType":"stroke","symbolSize":1156,"symbolStrokeWidth":2.6,"labelFontSize":19,"labelFontWeight":"bold","labelFont":"Liberation Sans","labelColor":"black","labelOffset":4,"rowPadding":0,"padding":0}},
   "detail":{"field":"s","type":"nominal"}}},
 {"width":482,"height":409,"layer":[
  {"data":{"name":"ifn"},"transform":[{"filter":"datum.c >= 27"}],"mark":{"type":"line","strokeWidth":1.6},
   "encoding":{
    "x":{"field":"c","type":"quantitative","scale":{"domain":[27,40],"nice":false,"zero":false},"axis":{"title":null,"values":[27,30,35,40],"labelExpr":"datum.value == 27 ? '' : datum.label","labelFontSize":15}},
    "y":{"field":"v","type":"quantitative","scale":{"domain":[0,5],"nice":false,"zero":false},"axis":null},
    "color":{"field":"g","type":"nominal","scale":{"domain":["Vehicle","28050","Naive"],"range":["#c4161c","#1e8b2c","#1c1cc8"]},"legend":null},
    "detail":{"field":"s","type":"nominal"}}},
  {"data":{"values":[{"label":"IFNγ"}]},"mark":{"type":"text","font":"Liberation Sans","fontSize":34,"fontWeight":"bold","color":"black","align":"center","baseline":"alphabetic"},
   "encoding":{"text":{"field":"label"},"x":{"datum":31.05},"y":{"datum":3.95}}},
  {"data":{"values":[{"label":"IFNγ"}]},"mark":{"type":"rule","strokeWidth":3,"color":"black"},
   "encoding":{"x":{"datum":30.05},"x2":{"datum":32.12},"y":{"datum":3.86}}}
 ]}
 ],"spacing":17,"bounds":"flush","resolve":{"scale":{"color":"independent"},"legend":{"color":"independent"}}},
{"vconcat":[
 {"hconcat":[
  {"width":140,"height":397,"data":{"name":"il12"},"transform":[{"filter":"datum.c <= 27"}],
   "mark":{"type":"line","strokeWidth":2.6},
   "encoding":{
    "x":{"field":"c","type":"quantitative","scale":{"domain":[0,27],"nice":false,"zero":false},"axis":{"title":null,"values":[0,10,20,27],"labelExpr":"datum.value == 27 ? '' : datum.label","labelFontSize":17}},
    "y":{"field":"v","type":"quantitative","scale":{"domain":[0,6],"nice":false,"zero":false},"axis":{"values":[0,1,2,3,4,5,6],"labelFontSize":17,"title":"Rn","titleFont":"Liberation Sans","titleFontSize":42,"titleFontWeight":"bold","titleColor":"black","titlePadding":47}},
    "color":{"field":"g","type":"nominal","scale":{"domain":["Vehicle","28050","Naive"],"range":["#c4161c","#1e8b2c","#1c1cc8"]},
      "legend":{"title":null,"orient":"none","legendX":27,"legendY":-2,"symbolType":"stroke","symbolSize":1296,"symbolStrokeWidth":3,"labelFontSize":21,"labelFontWeight":"bold","labelFont":"Liberation Sans","labelColor":"black","labelOffset":6,"rowPadding":-18,"padding":0}},
    "detail":{"field":"s","type":"nominal"}}},
  {"width":475,"height":397,"layer":[
   {"data":{"name":"il12"},"transform":[{"filter":"datum.c >= 27"}],"mark":{"type":"line","strokeWidth":2.6},
    "encoding":{
     "x":{"field":"c","type":"quantitative","scale":{"domain":[27,40],"nice":false,"zero":false},"axis":{"title":null,"values":[27,30,35,40],"labelExpr":"datum.value == 27 ? '' : datum.label","labelFontSize":17}},
     "y":{"field":"v","type":"quantitative","scale":{"domain":[0,6],"nice":false,"zero":false},"axis":null},
     "color":{"field":"g","type":"nominal","scale":{"domain":["Vehicle","28050","Naive"],"range":["#c4161c","#1e8b2c","#1c1cc8"]},"legend":null},
     "detail":{"field":"s","type":"nominal"}}},
   {"data":{"values":[{"label":"IL-12a"}]},"mark":{"type":"text","font":"Liberation Sans","fontSize":36,"fontWeight":"bold","color":"black","align":"center","baseline":"alphabetic"},
    "encoding":{"text":{"field":"label"},"x":{"datum":31.67},"y":{"datum":4.79}}}
  ]}
 ],"spacing":19,"bounds":"flush","resolve":{"scale":{"color":"independent"},"legend":{"color":"independent"}}},
 {"hconcat":[
  {"width":136,"height":377,"data":{"name":"il17"},"transform":[{"filter":"datum.c <= 25"}],
   "mark":{"type":"line","strokeWidth":3.4},
   "encoding":{
    "x":{"field":"c","type":"quantitative","scale":{"domain":[0,25],"nice":false,"zero":false},"axis":{"title":null,"values":[0,10,20,25],"labelExpr":"datum.value == 25 ? '' : datum.label","labelFontSize":17}},
    "y":{"field":"v","type":"quantitative","scale":{"domain":[0,6],"nice":false,"zero":false},"axis":{"title":null,"values":[0,1,2,3,4,5,6],"labelFontSize":17}},
    "color":{"field":"g","type":"nominal","scale":{"domain":["Vehicle","28050","Naive"],"range":["#c4161c","#1e8b2c","#1c1cc8"]},
      "legend":{"title":null,"orient":"none","legendX":16,"legendY":19.5,"symbolType":"stroke","symbolSize":2209,"symbolStrokeWidth":4,"labelFontSize":23,"labelFontWeight":"bold","labelFont":"Liberation Sans","labelColor":"black","labelOffset":6,"rowPadding":-18,"padding":0}},
    "detail":{"field":"s","type":"nominal"}}},
  {"width":460,"height":377,"layer":[
   {"data":{"name":"il17"},"transform":[{"filter":"datum.c >= 25"}],"mark":{"type":"line","strokeWidth":3.4},
    "encoding":{
     "x":{"field":"c","type":"quantitative","scale":{"domain":[25,40],"nice":false,"zero":false},"axis":{"title":null,"values":[25,30,35,40],"labelFontSize":17}},
     "y":{"field":"v","type":"quantitative","scale":{"domain":[0,6],"nice":false,"zero":false},"axis":null},
     "color":{"field":"g","type":"nominal","scale":{"domain":["Vehicle","28050","Naive"],"range":["#c4161c","#1e8b2c","#1c1cc8"]},"legend":null},
     "detail":{"field":"s","type":"nominal"}}},
   {"data":{"values":[{"label":"IL-17"}]},"mark":{"type":"text","font":"Liberation Sans","fontSize":36,"fontWeight":"bold","color":"black","align":"center","baseline":"alphabetic"},
    "encoding":{"text":{"field":"label"},"x":{"datum":30.49},"y":{"datum":4.89}}}
  ]}
 ],"spacing":25,"bounds":"flush","title":{"text":"Cycle","orient":"bottom","anchor":"middle","font":"DejaVu Sans","fontSize":40,"fontWeight":"bold","color":"black","offset":18},"resolve":{"scale":{"color":"independent"},"legend":{"color":"independent"}}}
],"spacing":32,"resolve":{"scale":{"color":"independent"},"legend":{"color":"independent"}}}
]
}
